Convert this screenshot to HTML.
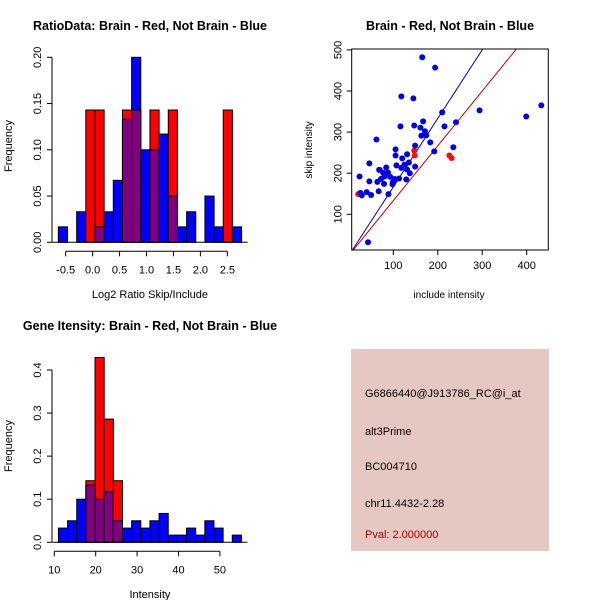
<!DOCTYPE html>
<html><head><meta charset="utf-8"><style>
body{margin:0;background:#fff}
svg{display:block;font-family:"Liberation Sans",Arial,sans-serif}
</style></head><body>
<svg id="c" width="600" height="600" viewBox="0 0 600 600" xmlns="http://www.w3.org/2000/svg">
<rect width="600" height="600" fill="#fff"/>
<text x="150" y="30" text-anchor="middle" font-size="12.5" font-weight="bold">RatioData: Brain - Red, Not Brain - Blue</text>
<text x="450" y="30" text-anchor="middle" font-size="12.5" font-weight="bold">Brain - Red, Not Brain - Blue</text>
<text x="150" y="330" text-anchor="middle" font-size="12.5" font-weight="bold">Gene Itensity: Brain - Red, Not Brain - Blue</text>
<g id="p1"></g>
<g id="p2"></g>
<g id="p3"></g>
<g>
<rect x="351" y="349" width="198" height="202" fill="#e6c8c2"/>
<text x="365" y="397" font-size="11">G6866440@J913786_RC@i_at</text>
<text x="365" y="435" font-size="11">alt3Prime</text>
<text x="365" y="470" font-size="11">BC004710</text>
<text x="365" y="507" font-size="11">chr11.4432-2.28</text>
<text x="365" y="538" font-size="11" fill="#a00000">Pval: 2.000000</text>
</g>
</svg>
<script>
// Ratio histogram data
const ratioStart = -0.636, ratioWidth = 0.17;
const ratioBlue = [0.0167,0,0.033,0,0.0167,0.033,0.067,0.133,0.2,0.1,0.1,0.117,0.05,0.0167,0.033,0,0.05,0.0167,0,0.0167];
const ratioRed  = [0,0,0,0.143,0.143,0,0,0.143,0.143,0,0.143,0,0.143,0,0,0,0,0,0.143,0];
const ratioXTicks = [-0.5,0,0.5,1,1.5,2,2.5];
const ratioXLabels = ["-0.5","0.0","0.5","1.0","1.5","2.0","2.5"];
const ratioYTicks = [0,0.05,0.1,0.15,0.2];
const ratioYLabels = ["0.00","0.05","0.10","0.15","0.20"];
// Intensity histogram data
const intStart = 11, intWidth = 2.21;
const intBlue = [0.033,0.05,0.1,0.133,0.1,0.117,0.05,0.033,0.05,0.033,0.05,0.067,0.0167,0.0167,0.033,0.0167,0.05,0.033,0,0.0167];
const intRed  = [0,0,0,0.143,0.429,0.286,0.143,0,0,0,0,0,0,0,0,0,0,0,0,0];
const intXTicks = [10,20,30,40,50];
const intYTicks = [0,0.1,0.2,0.3,0.4];
const intYLabels = ["0.0","0.1","0.2","0.3","0.4"];
// Scatter data
const blueX = [165,194,118,145,210,294,399,433,167,116,147,215,241,161,171,174,163,62,183,149,105,105,131,120,192,235,107,125,135,118,149,131,137,46,84,68,77,88,80,72,64,93,99,103,113,79,98,129,24,46,67,89,50,40,26,29,43];
const blueY = [482,457,387,382,348,353,338,365,326,314,316,314,324,311,302,292,291,282,275,267,258,243,246,236,253,263,219,221,226,213,216,209,200,224,214,208,201,201,192,186,179,191,178,186,187,174,173,185,192,180,156,149,147,154,152,146,32];
const redX = [21,70,147,148,226,231];
const redY = [149,208,255,243,243,237];
const scatXTicks = [100,200,300,400];
const scatYTicks = [100,200,300,400,500];
const blueSlope = 1.667, redSlope = 1.333;

const NS="http://www.w3.org/2000/svg";
function mk(parent,tag,attrs,txt){const e=document.createElementNS(NS,tag);for(const k in attrs)e.setAttribute(k,attrs[k]);if(txt!==undefined)e.textContent=txt;parent.appendChild(e);return e;}

function hist(g,start,width,blue,red,xs,ys,xt,xl,yt,yl,xlabel,yTitleY,xTitleY){
  const y0=ys(0);
  blue.forEach((b,i)=>{
    const r=red[i], x1=xs(start+i*width), x2=xs(start+(i+1)*width);
    if(b>0){const e=mk(g,'rect',{x:x1,y:ys(b),width:x2-x1,height:y0-ys(b),fill:'#0000ff',stroke:'#000','stroke-width':1});
      
      }
    if(r>0){const e=mk(g,'rect',{x:x1,y:ys(r),width:x2-x1,height:y0-ys(r),fill:'#ff0000',stroke:'#000','stroke-width':1});
      
      }
    const m=Math.min(b,r);
    if(m>0){const e=mk(g,'rect',{x:x1,y:ys(m),width:x2-x1,height:y0-ys(m),fill:'#800080',stroke:'#000','stroke-width':1});
      
      }
  });
  mk(g,'line',{x1:xs(start)-6,x2:xs(start+blue.length*width)+6,y1:y0,y2:y0,stroke:'#000'});
  const ax=xs(xt[0]), bx=xs(xt[xt.length-1]), ay=y0+9;
  mk(g,'line',{x1:ax,x2:bx,y1:ay,y2:ay,stroke:'#000'});
  xt.forEach((v,i)=>{mk(g,'line',{x1:xs(v),x2:xs(v),y1:ay,y2:ay+5,stroke:'#000'});
    const t=mk(g,'text',{x:xs(v),y:ay+22,'text-anchor':'middle','font-size':11},xl[i]);
    
    });
  const lx=52;
  mk(g,'line',{x1:lx,x2:lx,y1:ys(yt[0]),y2:ys(yt[yt.length-1]),stroke:'#000'});
  yt.forEach((v,i)=>{mk(g,'line',{x1:lx,x2:lx-5,y1:ys(v),y2:ys(v),stroke:'#000'});
    const t=mk(g,'text',{x:lx-11,y:ys(v),'text-anchor':'middle','font-size':11,transform:`rotate(-90 ${lx-11} ${ys(v)})`},yl[i]);
    
    });
  const xtl=mk(g,'text',{x:(xs(start)+xs(start+blue.length*width))/2,y:xTitleY,'text-anchor':'middle','font-size':11},xlabel);
  
  
  const ytl=mk(g,'text',{x:12,y:yTitleY,'text-anchor':'middle','font-size':11,transform:`rotate(-90 12 ${yTitleY})`},'Frequency');
  
  
}

// Plot 1
hist(document.getElementById('p1'),ratioStart,ratioWidth,ratioBlue,ratioRed,
  v=>92.6+v*53.9, v=>242.3-v*925, ratioXTicks,ratioXLabels,ratioYTicks,ratioYLabels,'Log2 Ratio Skip/Include',146,298);
// Plot 3
hist(document.getElementById('p3'),intStart,intWidth,intBlue,intRed,
  v=>54.3+(v-10)*4.14, v=>542.3-v*430.8, intXTicks,intXTicks.map(String),intYTicks,intYLabels,'Intensity',446,598);

// Scatter
(function(){
  const g=document.getElementById('p2');
  const xs=v=>348.9+v*0.4444, ys=v=>255.4-v*0.411;
  const L=351.7,R=548.3,T=49,B=250;
  const clip=mk(g,'clipPath',{id:'sc'});mk(clip,'rect',{x:L,y:T,width:R-L,height:B-T});
  const lg=mk(g,'g',{'clip-path':'url(#sc)'});
  [[blueSlope,'#0000aa','blue-fit-line'],[redSlope,'#cc0000','red-fit-line']].forEach(([s,c,n])=>{
    const e=mk(lg,'line',{x1:xs(0),y1:ys(0),x2:xs(600),y2:ys(600*s),stroke:c,'stroke-width':1});
    
    
  });
  redX.forEach((x,i)=>{const e=mk(g,'circle',{cx:xs(x),cy:ys(redY[i]),r:3,fill:'#ee1111'});
    
    });
  blueX.forEach((x,i)=>{const e=mk(g,'circle',{cx:xs(x),cy:ys(blueY[i]),r:3,fill:'#0000dd'});
    
    });
  mk(g,'rect',{x:L,y:T,width:R-L,height:B-T,fill:'none',stroke:'#000'});
  scatXTicks.forEach(v=>{mk(g,'line',{x1:xs(v),x2:xs(v),y1:B,y2:B+5,stroke:'#000'});
    const t=mk(g,'text',{x:xs(v),y:B+19,'text-anchor':'middle','font-size':11},String(v));
    
    });
  scatYTicks.forEach(v=>{mk(g,'line',{x1:L,x2:L-5,y1:ys(v),y2:ys(v),stroke:'#000'});
    const t=mk(g,'text',{x:L-10,y:ys(v),'text-anchor':'middle','font-size':11,transform:`rotate(-90 ${L-10} ${ys(v)})`},String(v));
    
    });
  const xt=mk(g,'text',{x:449,y:298,'text-anchor':'middle','font-size':10},'include intensity');
  
  
  const yt=mk(g,'text',{x:312,y:150,'text-anchor':'middle','font-size':10,transform:'rotate(-90 312 150)'},'skip intensity');
  
  
})();
</script>
</body></html>
